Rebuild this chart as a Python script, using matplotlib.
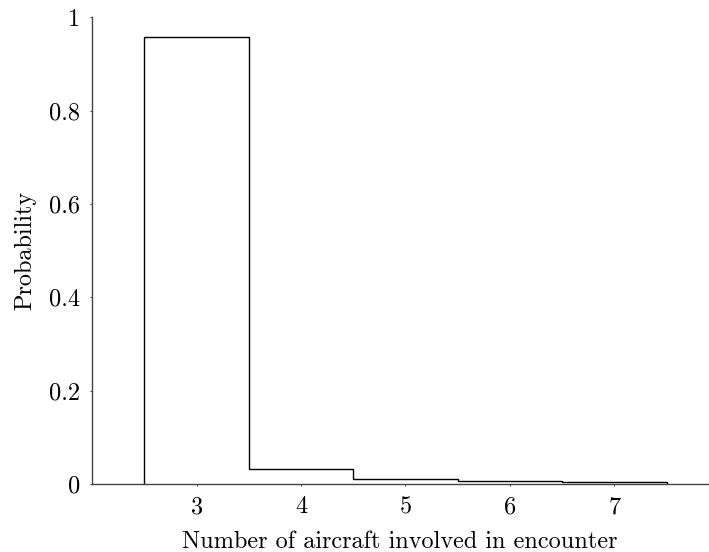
import matplotlib.pyplot as plt

plt.rcParams["font.family"] = "cmr10"
plt.rcParams["mathtext.fontset"] = "cm"
plt.rcParams["axes.formatter.use_mathtext"] = True

aircraft = [3, 4, 5, 6, 7]
probability = [0.957, 0.0315, 0.0107, 0.0064, 0.004]
yticks = [0, 0.2, 0.4, 0.6, 0.8, 1]
ytick_labels = ["0", "0.2", "0.4", "0.6", "0.8", "1"]

fig = plt.figure(figsize=(7.09, 5.52), dpi=100)
ax = fig.add_axes([0.130, 0.123, 0.869, 0.846])

# step outline histogram
edges = [a - 0.5 for a in aircraft] + [aircraft[-1] + 0.5]
ax.stairs(probability, edges, fill=False, color="black", linewidth=1.0, baseline=0)

ax.set_xlim(2.0, 7.9)
ax.set_ylim(0, 1)
ax.set_xticks(aircraft)
ax.set_xticklabels([str(a) for a in aircraft])
ax.set_yticks(yticks)
ax.set_yticklabels(ytick_labels)
ax.tick_params(length=1.5, width=0.8, color="#444444", labelsize=17.5, pad=7)

for side in ["top", "right"]:
    ax.spines[side].set_visible(False)
for side in ["left", "bottom"]:
    ax.spines[side].set_color("#444444")
    ax.spines[side].set_linewidth(1.0)

ax.set_xlabel("Number of aircraft involved in encounter", fontsize=17.5, labelpad=9)
ax.set_ylabel("Probability", fontsize=17.5, labelpad=9)

fig.savefig("out.png", dpi=100)
